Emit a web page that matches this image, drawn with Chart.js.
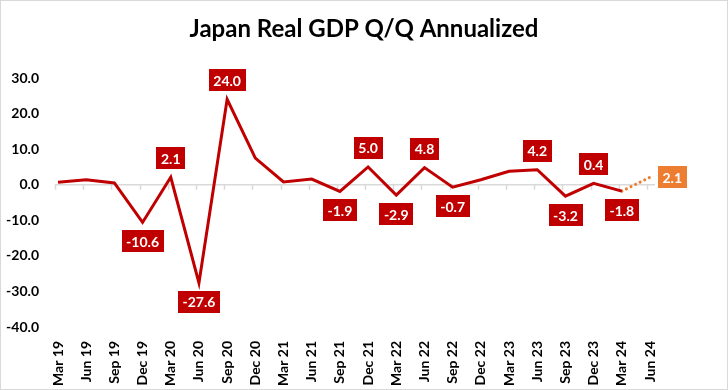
<!DOCTYPE html>
<html>
<head>
<meta charset="utf-8">
<script src="https://cdn.jsdelivr.net/npm/chart.js@4"></script>
<style>
html,body{margin:0;padding:0;background:#fff;}
canvas{display:block;}
</style>
</head>
<body>
<canvas id="c" width="728" height="390"></canvas>
<script>
const categories = ['Mar 19','Jun 19','Sep 19','Dec 19','Mar 20','Jun 20','Sep 20','Dec 20','Mar 21','Jun 21','Sep 21','Dec 21','Mar 22','Jun 22','Sep 22','Dec 22','Mar 23','Jun 23','Sep 23','Dec 23','Mar 24','Jun 24'];
const actualGDP = [0.7,1.4,0.5,-10.6,2.1,-27.6,24.0,7.5,0.8,1.6,-1.9,5.0,-2.9,4.8,-0.7,1.4,3.8,4.2,-3.2,0.4,-1.8,null];
const forecastGDP = [null,null,null,null,null,null,null,null,null,null,null,null,null,null,null,null,null,null,null,null,-1.8,2.1];
const actualLabelShown = [false,false,false,true,true,true,true,false,false,false,true,true,true,true,true,false,false,true,true,true,true,false];
const forecastLabelShown = [false,false,false,false,false,false,false,false,false,false,false,false,false,false,false,false,false,false,false,false,false,true];
const titleText = 'Japan Real GDP Q/Q Annualized';
const yMin = -40, yMax = 30, yStep = 10;

const RED = '#C00000', ORANGE = '#ED7D31';
const FONT = 'Lato, "Open Sans", sans-serif';

const framePlugin = {
  id: 'frame',
  beforeDraw(chart) {
    const {ctx, width, height} = chart;
    ctx.save();
    ctx.fillStyle = '#fff';
    ctx.fillRect(0, 0, width, height);
    ctx.strokeStyle = '#d9d9d9';
    ctx.lineWidth = 1;
    ctx.strokeRect(0.5, 0.5, width - 1, height - 1);
    ctx.fillStyle = '#000';
    ctx.font = 'bold 24px ' + FONT;
    ctx.textAlign = 'center';
    ctx.textBaseline = 'middle';
    ctx.fillText(titleText, width / 2, 29);
    ctx.restore();
  },
  beforeDatasetsDraw(chart) {
    const {ctx} = chart;
    const xs = chart.scales.x, ys = chart.scales.y;
    const y0 = ys.getPixelForValue(0);
    ctx.save();
    ctx.strokeStyle = '#d9d9d9';
    ctx.lineWidth = 1.5;
    ctx.beginPath();
    ctx.moveTo(xs.left - 3, y0);
    ctx.lineTo(xs.right + 5, y0);
    for (let i = 0; i < categories.length; i++) {
      const x = Math.round(xs.getPixelForValue(i)) - 2.5;
      ctx.moveTo(x, y0);
      ctx.lineTo(x, y0 + 5);
    }
    ctx.stroke();
    ctx.restore();
  }
};

const labelPlugin = {
  id: 'valueLabels',
  afterDatasetsDraw(chart) {
    const {ctx} = chart;
    ctx.save();
    ctx.font = 'bold 14px ' + FONT;
    ctx.textAlign = 'center';
    ctx.textBaseline = 'middle';
    chart.data.datasets.forEach((ds, di) => {
      const meta = chart.getDatasetMeta(di);
      ds.labelShown.forEach((show, i) => {
        if (!show) return;
        const v = ds.data[i];
        const pt = meta.data[i];
        const txt = v.toFixed(1);
        const w = ctx.measureText(txt).width + 9;
        const h = 22;
        let cx, cy;
        if (ds.labelSide === 'right') {
          cx = pt.x + 8 + w / 2;
          cy = pt.y;
        } else {
          cx = pt.x;
          cy = v >= 0 ? pt.y - 19 : pt.y + 19;
        }
        ctx.fillStyle = ds.labelFill;
        ctx.fillRect(Math.round(cx - w / 2), Math.round(cy - h / 2), Math.round(w), h);
        ctx.fillStyle = '#fff';
        ctx.fillText(txt, cx, cy + 1);
      });
    });
    ctx.restore();
  }
};

new Chart(document.getElementById('c'), {
  type: 'line',
  data: {
    labels: categories,
    datasets: [
      {
        data: actualGDP,
        borderColor: RED,
        borderWidth: 3,
        pointRadius: 0,
        tension: 0,
        spanGaps: false,
        labelShown: actualLabelShown,
        labelFill: RED,
        labelSide: 'sign'
      },
      {
        data: forecastGDP,
        borderColor: ORANGE,
        borderWidth: 3,
        borderDash: [0.1, 5],
        borderCapStyle: 'round',
        pointRadius: 0,
        tension: 0,
        labelShown: forecastLabelShown,
        labelFill: ORANGE,
        labelSide: 'right'
      }
    ]
  },
  options: {
    responsive: false,
    animation: false,
    layout: { padding: { left: 4, right: 78, top: 78, bottom: 0 } },
    plugins: {
      legend: { display: false },
      tooltip: { enabled: false },
      title: { display: false }
    },
    scales: {
      x: {
        offset: false,
        grid: { display: false, drawTicks: false },
        border: { display: false },
        ticks: {
          color: '#000',
          font: { family: FONT, size: 14, weight: 'bold' },
          maxRotation: 90,
          minRotation: 90,
          autoSkip: false,
          padding: 14
        },
        afterFit(scale) { scale.height = 63; }
      },
      y: {
        min: yMin,
        max: yMax,
        grid: { display: false, drawTicks: false },
        border: { display: false },
        ticks: {
          stepSize: yStep,
          color: '#000',
          font: { family: FONT, size: 14, weight: 'bold' },
          padding: 19,
          callback: v => v.toFixed(1)
        },
        afterFit(scale) { scale.width = 54; }
      }
    }
  },
  plugins: [framePlugin, labelPlugin]
});
</script>
</body>
</html>
